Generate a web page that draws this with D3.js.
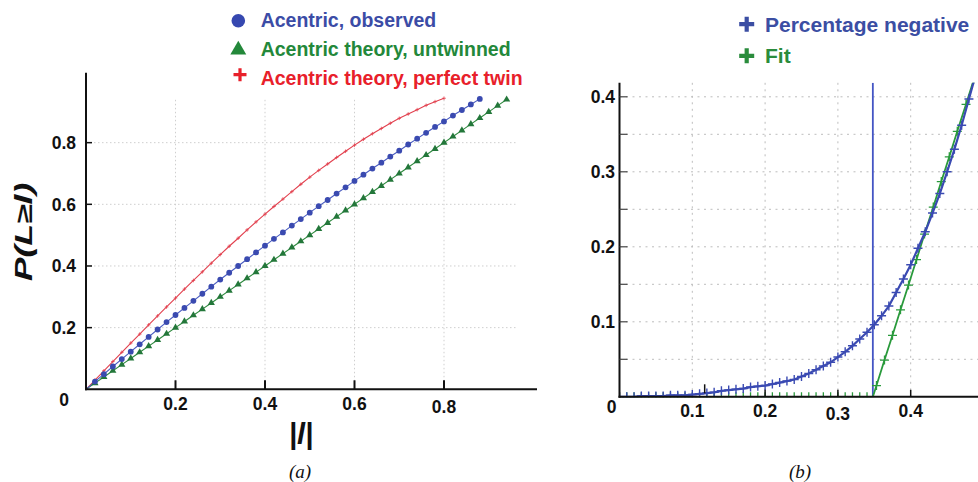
<!DOCTYPE html>
<html><head><meta charset="utf-8">
<script src="https://cdn.jsdelivr.net/npm/d3@7"></script>
<style>html,body{margin:0;padding:0;background:#fff;}svg{display:block;}</style>
</head><body>
<svg id="c" width="978" height="482"></svg>
<script>
// ---------- Panel (a) data ----------
const obsL = [0,0.02,0.04,0.06,0.08,0.10,0.12,0.14,0.16,0.18,0.20,0.22,0.24,0.26,0.28,0.30,0.32,0.34,0.36,0.38,0.40,0.42,0.44,0.46,0.48,0.50,0.52,0.54,0.56,0.58,0.60,0.62,0.64,0.66,0.68,0.70,0.72,0.74,0.76,0.78,0.80,0.82,0.84,0.86,0.88];
const obsP = [0,0.025,0.049,0.074,0.098,0.122,0.146,0.170,0.194,0.218,0.241,0.264,0.287,0.310,0.333,0.356,0.378,0.400,0.422,0.444,0.466,0.488,0.509,0.531,0.552,0.573,0.594,0.614,0.635,0.655,0.676,0.696,0.716,0.735,0.755,0.774,0.794,0.813,0.832,0.851,0.869,0.888,0.906,0.924,0.942];
const untL = [0,0.02,0.04,0.06,0.08,0.10,0.12,0.14,0.16,0.18,0.20,0.22,0.24,0.26,0.28,0.30,0.32,0.34,0.36,0.38,0.40,0.42,0.44,0.46,0.48,0.50,0.52,0.54,0.56,0.58,0.60,0.62,0.64,0.66,0.68,0.70,0.72,0.74,0.76,0.78,0.80,0.82,0.84,0.86,0.88,0.90,0.92,0.94];
const untP = [0,0.02,0.04,0.06,0.08,0.10,0.12,0.14,0.16,0.18,0.20,0.22,0.24,0.26,0.28,0.30,0.32,0.34,0.36,0.38,0.40,0.42,0.44,0.46,0.48,0.50,0.52,0.54,0.56,0.58,0.60,0.62,0.64,0.66,0.68,0.70,0.72,0.74,0.76,0.78,0.80,0.82,0.84,0.86,0.88,0.90,0.92,0.94];
const twinL = [0,0.02,0.04,0.06,0.08,0.10,0.12,0.14,0.16,0.18,0.20,0.22,0.24,0.26,0.28,0.30,0.32,0.34,0.36,0.38,0.40,0.42,0.44,0.46,0.48,0.50,0.52,0.54,0.56,0.58,0.60,0.62,0.64,0.66,0.68,0.70,0.72,0.74,0.76,0.78,0.80];
const twinP = [0,0.030,0.060,0.090,0.120,0.150,0.179,0.209,0.238,0.267,0.296,0.325,0.353,0.381,0.409,0.437,0.464,0.490,0.517,0.543,0.568,0.593,0.617,0.641,0.665,0.688,0.710,0.731,0.752,0.772,0.792,0.811,0.829,0.846,0.863,0.879,0.893,0.907,0.921,0.933,0.944];
const ticksA = [0.2,0.4,0.6,0.8];
const legendA = ["Acentric, observed","Acentric theory, untwinned","Acentric theory, perfect twin"];

// ---------- Panel (b) data ----------
const negL = [0,0.01,0.02,0.03,0.04,0.05,0.06,0.07,0.08,0.09,0.10,0.11,0.12,0.13,0.14,0.15,0.16,0.17,0.18,0.19,0.20,0.21,0.22,0.23,0.24,0.25,0.26,0.27,0.28,0.29,0.30,0.31,0.32,0.33,0.34,0.35,0.36,0.37,0.38,0.39,0.40,0.41,0.42,0.43,0.44,0.45,0.46,0.47,0.48,0.49];
const negP = [0,0,0,0.001,0.001,0.001,0.001,0.002,0.002,0.002,0.003,0.004,0.005,0.006,0.008,0.009,0.010,0.011,0.013,0.014,0.015,0.017,0.019,0.021,0.023,0.027,0.031,0.036,0.041,0.046,0.053,0.060,0.068,0.077,0.086,0.096,0.108,0.121,0.139,0.157,0.176,0.198,0.220,0.245,0.271,0.300,0.330,0.362,0.397,0.432];
const fitL = [0,0.01,0.02,0.03,0.04,0.05,0.06,0.07,0.08,0.09,0.10,0.11,0.12,0.13,0.14,0.15,0.16,0.17,0.18,0.19,0.20,0.21,0.22,0.23,0.24,0.25,0.26,0.27,0.28,0.29,0.30,0.31,0.32,0.33,0.34,0.348,0.353,0.364,0.375,0.386,0.397,0.408,0.419,0.431,0.442,0.453,0.464,0.476,0.487];
const fitP = [0,0,0,0,0,0,0,0,0,0,0,0,0,0,0,0,0,0,0,0,0,0,0,0,0,0,0,0,0,0,0,0,0,0,0,0,0.015,0.049,0.082,0.116,0.149,0.183,0.217,0.253,0.287,0.320,0.354,0.390,0.424];
const cutL = 0.348;
const ticksBx = [0.1,0.2,0.3,0.4];
const ticksBxMarks = [0.117,0.2,0.3,0.4];
const ticksBy = [0.1,0.2,0.3,0.4];
const gridBy = [0.05,0.1,0.15,0.2,0.25,0.3,0.35,0.4];
const legendB = ["Percentage negative","Fit"];

// ---------- drawing ----------
const svg = d3.select("#c");
const cBlue = "#3b4ca6", cRed = "#e8202a";
const sans = "Liberation Sans, Arial, sans-serif";
const tickFont = sans;
const tickSize = 17.5;

// ===== Panel (a) =====
const xa = d3.scaleLinear().domain([0,1]).range([86,533.5]);
const ya = d3.scaleLinear().domain([0,1]).range([389.3,81]);
const ga = svg.append("g");

ga.selectAll(".gh").data(ticksA).join("line")
  .attr("x1", xa(0)).attr("x2", xa(0.965)).attr("y1", d=>ya(d)).attr("y2", d=>ya(d))
  .attr("stroke","#cfcfcf").attr("stroke-width",1).attr("stroke-dasharray","1.5,2.5");
ga.selectAll(".gv").data(ticksA).join("line")
  .attr("x1", d=>xa(d)).attr("x2", d=>xa(d)).attr("y1", ya(0)).attr("y2", ya(0.946))
  .attr("stroke","#cfcfcf").attr("stroke-width",1).attr("stroke-dasharray","1.5,2.5");

const zip = (a,b)=>a.map((v,i)=>[v,b[i]]);
const lineA = d3.line().x(d=>xa(d[0])).y(d=>ya(d[1]));
const twin = zip(twinL,twinP), unt = zip(untL,untP), obs = zip(obsL,obsP);
ga.append("path").attr("d", lineA(twin)).attr("fill","none").attr("stroke","#e2404e").attr("stroke-width",1.1);
ga.append("path").attr("d", lineA(unt)).attr("fill","none").attr("stroke","#2e8a3e").attr("stroke-width",1.1);
ga.append("path").attr("d", lineA(obs)).attr("fill","none").attr("stroke","#4a5cc0").attr("stroke-width",1.1);

ga.selectAll(".mt").data(twin.slice(1)).join("path")
  .attr("d","M-1.8,0H1.8M0,-1.8V1.8").attr("transform", d=>`translate(${xa(d[0])},${ya(d[1])})`)
  .attr("stroke","#e2404e").attr("stroke-width",0.8).attr("fill","none");
ga.selectAll(".mu").data(unt.slice(1)).join("path")
  .attr("d", d3.symbol().type(d3.symbolTriangle).size(22)()).attr("transform", d=>`translate(${xa(d[0])},${ya(d[1])})`)
  .attr("fill","#23773a");
ga.selectAll(".mo").data(obs.slice(1)).join("circle")
  .attr("cx", d=>xa(d[0])).attr("cy", d=>ya(d[1])).attr("r",2.9).attr("fill","#3a4ab0");

ga.append("line").attr("x1",xa(0)).attr("x2",xa(0)).attr("y1",72.7).attr("y2",ya(0)+1).attr("stroke","#111").attr("stroke-width",2);
ga.append("line").attr("x1",xa(0)-1).attr("x2",537).attr("y1",ya(0)).attr("y2",ya(0)).attr("stroke","#111").attr("stroke-width",2);
ga.selectAll(".tx").data(ticksA).join("line")
  .attr("x1",d=>xa(d)).attr("x2",d=>xa(d)).attr("y1",ya(0)).attr("y2",ya(0)-9).attr("stroke","#111").attr("stroke-width",2);
ga.selectAll(".ty").data(ticksA).join("line")
  .attr("x1",xa(0)).attr("x2",xa(0)+6).attr("y1",d=>ya(d)).attr("y2",d=>ya(d)).attr("stroke","#111").attr("stroke-width",1.5);

ga.selectAll(".lx").data(ticksA).join("text")
  .attr("x",d=>xa(d)).attr("y",(d,i)=>i===3?413:410).attr("text-anchor","middle")
  .attr("font-family",tickFont).attr("font-weight","bold").attr("font-size",tickSize).attr("fill","#111")
  .text(d=>d3.format(".1f")(d));
ga.selectAll(".ly").data(ticksA).join("text")
  .attr("x",76).attr("y",d=>ya(d)+6.2).attr("text-anchor","end")
  .attr("font-family",tickFont).attr("font-weight","bold").attr("font-size",tickSize).attr("fill","#111")
  .text(d=>d3.format(".1f")(d));
ga.append("text").attr("x",64).attr("y",406).attr("text-anchor","middle")
  .attr("font-family",tickFont).attr("font-weight","bold").attr("font-size",tickSize).attr("fill","#111").text("0");

ga.append("text").attr("x",301).attr("y",444).attr("text-anchor","middle")
  .attr("font-family",sans).attr("font-weight","bold").attr("font-style","italic").attr("font-size",29).attr("fill","#111").text("|l|");
ga.append("text").attr("transform","translate(32,232) rotate(-90) scale(1.55,1)").attr("text-anchor","middle")
  .attr("font-family",sans).attr("font-weight","bold").attr("font-style","italic").attr("font-size",23).attr("fill","#111").text("P(L≥l)");

const legAy = [27.3,56,84.7];
const legAc = [cBlue,"#23883a",cRed];
const lgA = ga.selectAll(".lg").data(legendA).join("g").attr("transform",(d,i)=>`translate(0,${legAy[i]})`);
lgA.append("text").attr("x",260.7).attr("y",0).attr("font-family",sans).attr("font-weight","bold").attr("font-size",19.5)
  .attr("fill",(d,i)=>legAc[i]).text(d=>d);
ga.append("circle").attr("cx",238.3).attr("cy",legAy[0]-6.5).attr("r",6.8).attr("fill","#3648b0");
ga.append("path").attr("d", d3.symbol().type(d3.symbolTriangle).size(110)()).attr("transform",`translate(238.3,${legAy[1]-6})`).attr("fill","#23883a");
ga.append("path").attr("d","M-6.5,0H6.5M0,-6.5V6.5").attr("transform",`translate(240,${legAy[2]-10})`).attr("stroke",cRed).attr("stroke-width",3.2);

ga.append("text").attr("x",300).attr("y",478).attr("text-anchor","middle").attr("font-family","Liberation Serif, serif")
  .attr("font-style","italic").attr("font-size",19).attr("fill","#111").text("(a)");

// ===== Panel (b) =====
const xb = d3.scaleLinear().domain([0,0.5]).range([619.5,983.5]);
const yb = d3.scaleLinear().domain([0,0.4]).range([396.8,96.8]);
const gb = svg.append("g");
const yTop = yb(0.4188);
svg.append("defs").append("clipPath").attr("id","clipB").append("rect")
  .attr("x",xb(0)).attr("y",yTop).attr("width",xb(0.5)-xb(0)).attr("height",yb(0)-yTop+0.5);

gb.selectAll(".gh").data(gridBy).join("line")
  .attr("x1",xb(0)).attr("x2",xb(0.5)).attr("y1",d=>yb(d)).attr("y2",d=>yb(d))
  .attr("stroke","#bdbdbd").attr("stroke-width",1).attr("stroke-dasharray","2,4.5");
gb.selectAll(".gv").data(ticksBx).join("line")
  .attr("x1",d=>xb(d)).attr("x2",d=>xb(d)).attr("y1",yb(0)).attr("y2",yTop)
  .attr("stroke","#bdbdbd").attr("stroke-width",1).attr("stroke-dasharray","2,4.5");

const pb = gb.append("g").attr("clip-path","url(#clipB)");
const lineB = d3.line().x(d=>xb(d[0])).y(d=>yb(d[1]));
const neg = zip(negL,negP), fit = zip(fitL,fitP);
pb.append("line").attr("x1",xb(cutL)).attr("x2",xb(cutL)).attr("y1",yb(0)).attr("y2",yTop).attr("stroke","#4455c4").attr("stroke-width",1.8);
pb.append("path").attr("d",lineB(fit)).attr("fill","none").attr("stroke","#2a9a3c").attr("stroke-width",1.8);
pb.selectAll(".mf").data(fit.filter(d=>d[0]!==cutL)).join("path")
  .attr("d","M-4.5,0H4.5M0,-4.5V4.5").attr("transform",d=>`translate(${xb(d[0])},${yb(d[1])})`)
  .attr("stroke","#2a9a3c").attr("stroke-width",1.3).attr("fill","none");
pb.append("path").attr("d",lineB(neg)).attr("fill","none").attr("stroke","#3a4ab2").attr("stroke-width",2.2);
pb.selectAll(".mn").data(neg).join("path")
  .attr("d","M-4.5,0H4.5M0,-4.5V4.5").attr("transform",d=>`translate(${xb(d[0])},${yb(d[1])})`)
  .attr("stroke","#3a4ab2").attr("stroke-width",1.4).attr("fill","none");

gb.append("line").attr("x1",xb(0)).attr("x2",xb(0)).attr("y1",yTop).attr("y2",yb(0)+1).attr("stroke","#111").attr("stroke-width",2);
gb.append("line").attr("x1",xb(0)-1).attr("x2",xb(0.5)).attr("y1",yb(0)).attr("y2",yb(0)).attr("stroke","#111").attr("stroke-width",2);
gb.selectAll(".tx").data(ticksBxMarks).join("line")
  .attr("x1",d=>xb(d)).attr("x2",d=>xb(d)).attr("y1",(d,i)=>i===0?yb(0)-3.5:yb(0)).attr("y2",(d,i)=>i===0?yb(0)-12.5:yb(0)-7)
  .attr("stroke","#111").attr("stroke-width",1.5);
gb.selectAll(".ty").data(gridBy).join("line")
  .attr("x1",xb(0)).attr("x2",xb(0)+8).attr("y1",d=>yb(d)).attr("y2",d=>yb(d)).attr("stroke","#444").attr("stroke-width",1.2);

gb.selectAll(".lx").data(ticksBx).join("text")
  .attr("x",d=>xb(d)).attr("y",(d,i)=>i===2?419.5:417).attr("text-anchor","middle")
  .attr("font-family",tickFont).attr("font-weight","bold").attr("font-size",tickSize).attr("fill","#111")
  .text(d=>d3.format(".1f")(d));
gb.selectAll(".ly").data(ticksBy).join("text")
  .attr("x",615).attr("y",d=>yb(d)+6.2).attr("text-anchor","end")
  .attr("font-family",tickFont).attr("font-weight","bold").attr("font-size",tickSize).attr("fill","#111")
  .text(d=>d3.format(".1f")(d));
gb.append("text").attr("x",611.5).attr("y",412.5).attr("text-anchor","middle")
  .attr("font-family",tickFont).attr("font-weight","bold").attr("font-size",tickSize).attr("fill","#111").text("0");

const legBy = [31.7,63.3];
const legBc = ["#3b4ea3","#2a8c3c"];
const lgB = gb.selectAll(".lg").data(legendB).join("g").attr("transform",(d,i)=>`translate(0,${legBy[i]})`);
lgB.append("text").attr("x",765).attr("y",0).attr("font-family",sans).attr("font-weight","bold").attr("font-size",21)
  .attr("fill",(d,i)=>legBc[i]).text(d=>d);
lgB.append("path").attr("d","M-7.5,0H7.5M0,-7.5V7.5").attr("transform","translate(746.7,-7.5)")
  .attr("stroke",(d,i)=>legBc[i]).attr("stroke-width",4.2);

gb.append("text").attr("x",800).attr("y",478).attr("text-anchor","middle").attr("font-family","Liberation Serif, serif")
  .attr("font-style","italic").attr("font-size",19).attr("fill","#111").text("(b)");
</script>
</body></html>
